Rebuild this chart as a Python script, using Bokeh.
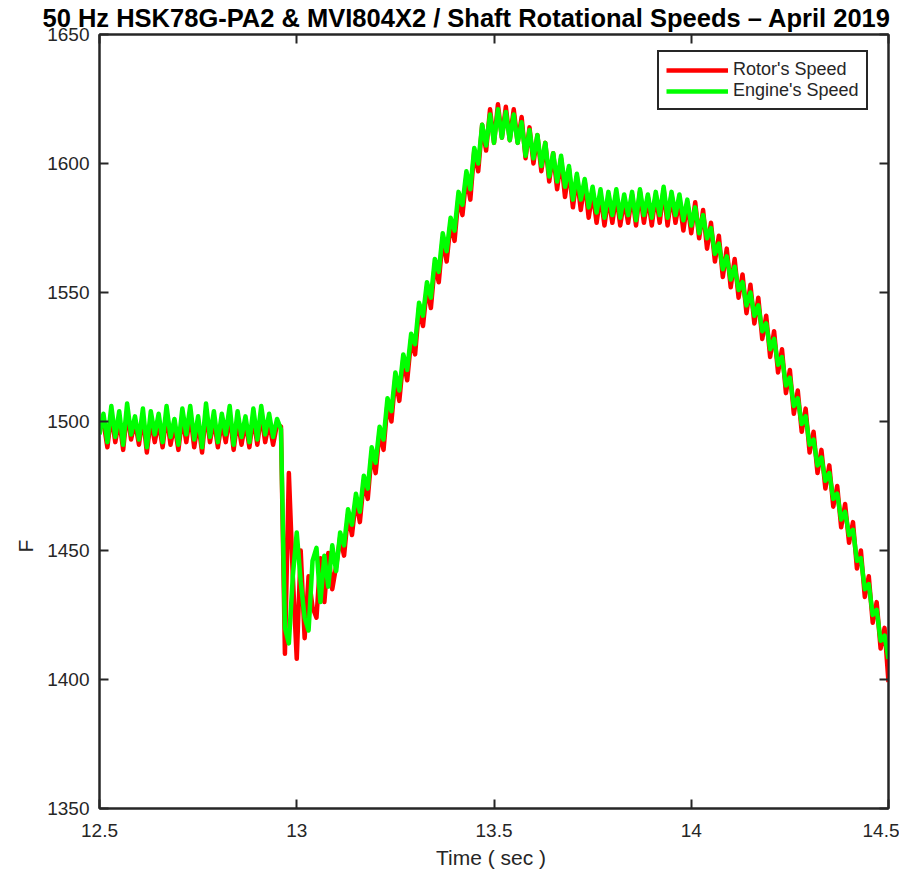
from bokeh.plotting import figure
from bokeh.models import LinearAxis, FixedTicker, Range1d, Title
from bokeh.embed import file_html
from bokeh.resources import INLINE

# ---------------- data ----------------
time_s = [
    12.50, 12.51, 12.52, 12.53, 12.54, 12.55, 12.56, 12.57, 12.58, 12.59,
    12.60, 12.61, 12.62, 12.63, 12.64, 12.65, 12.66, 12.67, 12.68, 12.69,
    12.70, 12.71, 12.72, 12.73, 12.74, 12.75, 12.76, 12.77, 12.78, 12.79,
    12.80, 12.81, 12.82, 12.83, 12.84, 12.85, 12.86, 12.87, 12.88, 12.89,
    12.90, 12.91, 12.92, 12.93, 12.94, 12.95, 12.96, 12.97, 12.98, 12.99,
    13.00, 13.01, 13.02, 13.03, 13.04, 13.05, 13.06, 13.07, 13.08, 13.09,
    13.10, 13.11, 13.12, 13.13, 13.14, 13.15, 13.16, 13.17, 13.18, 13.19,
    13.20, 13.21, 13.22, 13.23, 13.24, 13.25, 13.26, 13.27, 13.28, 13.29,
    13.30, 13.31, 13.32, 13.33, 13.34, 13.35, 13.36, 13.37, 13.38, 13.39,
    13.40, 13.41, 13.42, 13.43, 13.44, 13.45, 13.46, 13.47, 13.48, 13.49,
    13.50, 13.51, 13.52, 13.53, 13.54, 13.55, 13.56, 13.57, 13.58, 13.59,
    13.60, 13.61, 13.62, 13.63, 13.64, 13.65, 13.66, 13.67, 13.68, 13.69,
    13.70, 13.71, 13.72, 13.73, 13.74, 13.75, 13.76, 13.77, 13.78, 13.79,
    13.80, 13.81, 13.82, 13.83, 13.84, 13.85, 13.86, 13.87, 13.88, 13.89,
    13.90, 13.91, 13.92, 13.93, 13.94, 13.95, 13.96, 13.97, 13.98, 13.99,
    14.00, 14.01, 14.02, 14.03, 14.04, 14.05, 14.06, 14.07, 14.08, 14.09,
    14.10, 14.11, 14.12, 14.13, 14.14, 14.15, 14.16, 14.17, 14.18, 14.19,
    14.20, 14.21, 14.22, 14.23, 14.24, 14.25, 14.26, 14.27, 14.28, 14.29,
    14.30, 14.31, 14.32, 14.33, 14.34, 14.35, 14.36, 14.37, 14.38, 14.39,
    14.40, 14.41, 14.42, 14.43, 14.44, 14.45, 14.46, 14.47, 14.48, 14.49,
    14.50,
]

rotor_speed = [
    1497, 1500, 1490, 1503, 1492, 1501, 1489, 1504, 1493, 1500,
    1491, 1502, 1488, 1501, 1492, 1500, 1490, 1503, 1491, 1499,
    1489, 1502, 1492, 1503, 1490, 1500, 1488, 1504, 1492, 1501,
    1490, 1500, 1492, 1503, 1489, 1501, 1491, 1500, 1490, 1502,
    1491, 1503, 1492, 1500, 1491, 1499, 1498, 1410, 1480, 1440,
    1408, 1450, 1416, 1440, 1428, 1424, 1447, 1430, 1449, 1435,
    1444, 1455, 1448, 1464, 1456, 1470, 1461, 1477, 1470, 1488,
    1480, 1496, 1489, 1507, 1500, 1517, 1508, 1524, 1516, 1532,
    1526, 1544, 1537, 1552, 1544, 1561, 1554, 1571, 1562, 1577,
    1570, 1587, 1580, 1595, 1586, 1605, 1597, 1615, 1605, 1621,
    1608, 1623, 1610, 1622, 1609, 1621, 1608, 1618, 1602, 1614,
    1600, 1611, 1597, 1608, 1593, 1604, 1590, 1602, 1587, 1598,
    1583, 1595, 1582, 1593, 1579, 1589, 1577, 1588, 1576, 1587,
    1577, 1588, 1576, 1586, 1577, 1588, 1576, 1589, 1577, 1587,
    1576, 1588, 1577, 1590, 1576, 1588, 1577, 1586, 1574, 1585,
    1573, 1585, 1571, 1582, 1567, 1577, 1562, 1572, 1556, 1567,
    1552, 1563, 1548, 1557, 1542, 1553, 1538, 1548, 1532, 1541,
    1525, 1535, 1519, 1528, 1511, 1520, 1503, 1512, 1496, 1505,
    1488, 1496, 1480, 1489, 1474, 1483, 1467, 1475, 1459, 1468,
    1453, 1461, 1443, 1450, 1432, 1440, 1422, 1430, 1412, 1420,
    1399,
]

engine_speed = [
    1495, 1503, 1492, 1506, 1494, 1504, 1491, 1507, 1495, 1502,
    1493, 1505, 1490, 1504, 1495, 1503, 1492, 1506, 1494, 1501,
    1491, 1505, 1495, 1506, 1493, 1502, 1490, 1507, 1494, 1504,
    1492, 1503, 1495, 1506, 1491, 1504, 1494, 1502, 1492, 1505,
    1493, 1506, 1495, 1503, 1494, 1501, 1497, 1420, 1414, 1440,
    1457, 1438, 1424, 1419, 1446, 1451, 1430, 1448, 1436, 1452,
    1442, 1457, 1452, 1466, 1460, 1472, 1465, 1479, 1474, 1490,
    1484, 1498, 1493, 1509, 1504, 1519, 1512, 1526, 1520, 1534,
    1530, 1546, 1541, 1554, 1548, 1563, 1558, 1573, 1566, 1579,
    1574, 1589, 1584, 1597, 1590, 1606, 1600, 1615, 1607, 1619,
    1608, 1621, 1610, 1620, 1609, 1619, 1608, 1616, 1603, 1613,
    1602, 1611, 1599, 1608, 1595, 1604, 1593, 1603, 1591, 1599,
    1586, 1596, 1586, 1594, 1583, 1591, 1581, 1590, 1579, 1589,
    1580, 1590, 1579, 1588, 1580, 1589, 1578, 1590, 1580, 1588,
    1579, 1589, 1580, 1591, 1579, 1589, 1580, 1588, 1578, 1586,
    1576, 1583, 1573, 1580, 1571, 1575, 1565, 1569, 1559, 1564,
    1555, 1560, 1551, 1554, 1545, 1550, 1541, 1545, 1535, 1538,
    1528, 1532, 1522, 1525, 1514, 1517, 1506, 1509, 1499, 1502,
    1491, 1493, 1483, 1486, 1477, 1480, 1470, 1472, 1462, 1465,
    1456, 1458, 1446, 1447, 1435, 1437, 1425, 1427, 1415, 1417,
    1408,
]

x_ticks = [12.5, 13, 13.5, 14, 14.5]
x_tick_labels = ["12.5", "13", "13.5", "14", "14.5"]
y_ticks = [1350, 1400, 1450, 1500, 1550, 1600, 1650]
y_tick_labels = ["1350", "1400", "1450", "1500", "1550", "1600", "1650"]

title_text = "50 Hz HSK78G-PA2 & MVI804X2 / Shaft Rotational Speeds \u2013 April 2019"
x_label_text = "Time  ( sec )"
y_label_text = "F"
series_names = ["Rotor's Speed", "Engine's Speed"]
series_colors = ["#FF0000", "#00FF00"]

# ---------------- figure ----------------
FONT = "Liberation Sans"
INK = "#262626"

p = figure(
    frame_width=789, frame_height=774,
    x_range=Range1d(12.5, 14.5), y_range=Range1d(1350, 1650),
    output_backend="svg", toolbar_location=None,
    min_border_left=99, min_border_right=11,
    min_border_top=34, min_border_bottom=59,
    background_fill_color="white", border_fill_color="white",
)
p.grid.visible = False
p.outline_line_color = INK
p.outline_line_width = 2

p.line(time_s, rotor_speed, line_color=series_colors[0], line_width=4.5,
       line_join="round", legend_label=series_names[0])
p.line(time_s, engine_speed, line_color=series_colors[1], line_width=4.5,
       line_join="round", legend_label=series_names[1])

def style_axis(ax, ticks, labels, show_labels, standoff):
    ax.ticker = FixedTicker(ticks=ticks)
    ax.major_label_overrides = {t: (l if show_labels else "") for t, l in zip(ticks, labels)}
    ax.major_tick_in = 9
    ax.major_tick_out = 0
    ax.minor_tick_in = 0
    ax.minor_tick_out = 0
    ax.axis_line_color = INK
    ax.axis_line_width = 2
    ax.major_tick_line_color = INK
    ax.major_tick_line_width = 2
    ax.major_label_text_font = FONT
    ax.major_label_text_font_size = "19px" if show_labels else "0px"
    ax.major_label_text_color = INK
    ax.major_label_standoff = standoff

xa = p.xaxis[0]
ya = p.yaxis[0]
style_axis(xa, x_ticks, x_tick_labels, True, 15)
style_axis(ya, y_ticks, y_tick_labels, True, 10)
xa.axis_label = x_label_text
xa.axis_label_text_font = FONT
xa.axis_label_text_font_size = "21px"
xa.axis_label_text_font_style = "normal"
xa.axis_label_text_color = INK
xa.axis_label_standoff = 6

top_ax = LinearAxis()
right_ax = LinearAxis()
style_axis(top_ax, x_ticks, x_tick_labels, False, 0)
style_axis(right_ax, y_ticks, y_tick_labels, False, 0)
p.add_layout(top_ax, "above")
p.add_layout(right_ax, "right")

# title
p.title.text = title_text
p.title.text_font = FONT
p.title.text_font_size = "25.5px"
p.title.text_font_style = "bold"
p.title.text_color = "black"
p.title.align = "left"
p.title.offset = -57
p.title.standoff = 2
p.title.vertical_align = "top"

# y label placed as a side title (off-centre like the reference)
ylab = Title(text=y_label_text, align="left", offset=256,
             text_font=FONT, text_font_size="21px", text_font_style="normal",
             text_color=INK, standoff=16)
p.add_layout(ylab, "left")

lg = p.legend[0]
lg.location = (558, 698)
lg.label_text_font = FONT
lg.label_text_font_size = "18px"
lg.label_text_color = INK
lg.border_line_color = INK
lg.border_line_alpha = 1
lg.border_line_width = 2
lg.background_fill_color = "white"
lg.background_fill_alpha = 1
lg.padding = 7
lg.spacing = 0
lg.margin = 0
lg.glyph_width = 62
lg.glyph_height = 20
lg.label_standoff = 5
lg.label_height = 20

open("out.html", "w").write(file_html(p, INLINE))
